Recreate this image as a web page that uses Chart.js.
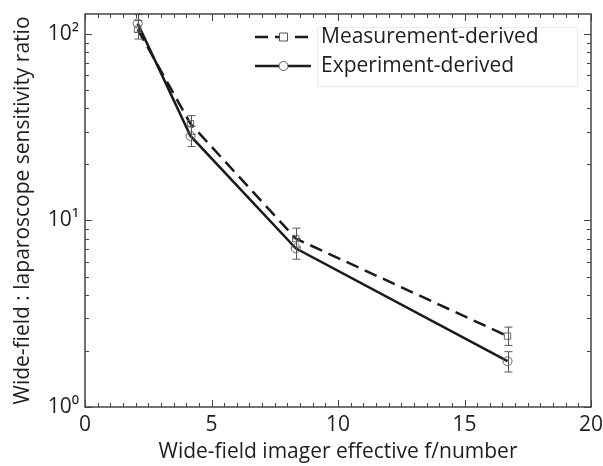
<!DOCTYPE html>
<html>
<head>
<meta charset="utf-8">
<script src="https://cdn.jsdelivr.net/npm/chart.js@4"></script>
<style>
  html, body { margin: 0; padding: 0; background: #fff; }
  #wrap { width: 603px; height: 466px; }
</style>
</head>
<body>
<div id="wrap"><canvas id="chart" width="603" height="466"></canvas></div>
<script>
// f/number of the wide-field imager
const fNumbers = [2.08, 4.17, 8.33, 16.7];

// Measurement-derived ratio and error bar ends
const measurement = [106, 33, 8.0, 2.4];
const measurementLow = [94, 29, 7.2, 2.14];
const measurementHigh = [118, 36.5, 9.1, 2.68];

// Experiment-derived ratio and error bar ends
const experiment = [114, 28.4, 7.1, 1.76];
const experimentLow = [102, 24.9, 6.2, 1.54];
const experimentHigh = [127, 32, 8.0, 1.98];

const xTicks = [0, 5, 10, 15, 20];
const yTicks = [1, 10, 100];
const yTickLabels = ['10\u2070', '10\u00b9', '10\u00b2'];
const legendLabels = ['Measurement-derived', 'Experiment-derived'];

const FONT = "'Open Sans', 'DejaVu Sans', sans-serif";
const INK = '#1e1e1e';
const DASH = [13, 7];

function toPoints(ys) {
    return fNumbers.map((x, i) => ({ x: x, y: ys[i] }));
}

// error bars, inward ticks, frame and legend
const decorations = {
    id: 'decorations',
    afterDatasetsDraw(chart) {
        const { ctx, chartArea: a, scales: { x, y } } = chart;
        ctx.save();

        // error bars
        ctx.strokeStyle = '#555';
        ctx.lineWidth = 1;
        [[measurementLow, measurementHigh], [experimentLow, experimentHigh]].forEach(([lo, hi]) => {
            fNumbers.forEach((f, i) => {
                const px = Math.round(x.getPixelForValue(f)) + 0.5;
                const y1 = y.getPixelForValue(lo[i]);
                const y2 = y.getPixelForValue(hi[i]);
                ctx.beginPath();
                ctx.moveTo(px, y1); ctx.lineTo(px, y2);
                ctx.moveTo(px - 4, y1); ctx.lineTo(px + 4, y1);
                ctx.moveTo(px - 4, y2); ctx.lineTo(px + 4, y2);
                ctx.stroke();
            });
        });

        // inward ticks
        ctx.strokeStyle = '#444';
        ctx.lineWidth = 1;
        ctx.beginPath();
        for (let v = 0; v <= 20; v += 0.5) {
            const px = Math.round(x.getPixelForValue(v)) + 0.5;
            const len = v % 5 === 0 ? 7 : 4;
            ctx.moveTo(px, a.bottom); ctx.lineTo(px, a.bottom - len);
            ctx.moveTo(px, a.top); ctx.lineTo(px, a.top + len);
        }
        for (let d = 1; d <= 100; d *= 10) {
            for (let m = 1; m <= 9; m++) {
                const v = d * m;
                if (v > y.max) break;
                const py = Math.round(y.getPixelForValue(v)) + 0.5;
                const len = m === 1 ? 7 : 4;
                ctx.moveTo(a.left, py); ctx.lineTo(a.left + len, py);
                ctx.moveTo(a.right, py); ctx.lineTo(a.right - len, py);
            }
        }
        ctx.stroke();

        // frame
        ctx.strokeStyle = '#444';
        ctx.lineWidth = 1.5;
        ctx.strokeRect(a.left, a.top, a.right - a.left, a.bottom - a.top);

        // legend
        ctx.strokeStyle = '#ececec';
        ctx.lineWidth = 1;
        ctx.strokeRect(317.5, 27.5, 260, 59);

        const rows = [
            { y: 37, dash: DASH, marker: 'rect' },
            { y: 66, dash: [], marker: 'circle' }
        ];
        rows.forEach((r, i) => {
            ctx.strokeStyle = '#1a1a1a';
            ctx.lineWidth = 2.5;
            ctx.setLineDash(r.dash);
            ctx.beginPath();
            ctx.moveTo(255, r.y); ctx.lineTo(311, r.y);
            ctx.stroke();
            ctx.setLineDash([]);
            ctx.strokeStyle = '#555';
            ctx.lineWidth = 1;
            ctx.fillStyle = '#fff';
            ctx.beginPath();
            if (r.marker === 'rect') {
                ctx.rect(279.5, r.y - 4, 8, 8);
            } else {
                ctx.arc(283.5, r.y, 4.5, 0, Math.PI * 2);
            }
            ctx.fill();
            ctx.stroke();
            ctx.fillStyle = INK;
            ctx.font = '21px ' + FONT;
            ctx.textBaseline = 'middle';
            ctx.textAlign = 'left';
            ctx.fillText(legendLabels[i], 321, r.y);
        });

        ctx.restore();
    }
};

new Chart(document.getElementById('chart').getContext('2d'), {
    type: 'line',
    data: {
        datasets: [
            {
                label: legendLabels[0],
                data: toPoints(measurement),
                borderColor: '#1a1a1a',
                borderWidth: 2.5,
                borderDash: DASH,
                pointStyle: 'rect',
                pointRadius: 4.5,
                pointBorderColor: '#666',
                pointBackgroundColor: 'rgba(0,0,0,0)',
                pointBorderWidth: 1,
                tension: 0,
                fill: false
            },
            {
                label: legendLabels[1],
                data: toPoints(experiment),
                borderColor: '#1a1a1a',
                borderWidth: 2.5,
                pointStyle: 'circle',
                pointRadius: 4.5,
                pointBorderColor: '#666',
                pointBackgroundColor: 'rgba(0,0,0,0)',
                pointBorderWidth: 1,
                tension: 0,
                fill: false
            }
        ]
    },
    options: {
        responsive: false,
        animation: false,
        layout: { padding: { top: 14, right: 12, left: 0, bottom: 0 } },
        plugins: {
            legend: { display: false },
            tooltip: { enabled: false }
        },
        scales: {
            x: {
                type: 'linear',
                min: 0,
                max: 20,
                afterBuildTicks: axis => { axis.ticks = xTicks.map(v => ({ value: v })); },
                afterFit: axis => {
                    axis.height = 59;
                    axis.paddingLeft = 0;
                    axis.paddingRight = 0;
                },
                grid: { display: false, drawTicks: false },
                border: { display: false },
                ticks: {
                    padding: 5,
                    color: INK,
                    font: { family: FONT, size: 21 },
                    maxRotation: 0
                },
                title: {
                    display: true,
                    text: 'Wide-field imager effective f/number',
                    color: INK,
                    font: { family: FONT, size: 21 },
                    padding: { top: 0, bottom: 1 }
                }
            },
            y: {
                type: 'logarithmic',
                min: 1,
                max: 128,
                afterBuildTicks: axis => { axis.ticks = yTicks.map(v => ({ value: v })); },
                afterFit: axis => {
                    axis.width = 85;
                    axis.paddingTop = 0;
                    axis.paddingBottom = 0;
                },
                grid: { display: false, drawTicks: false },
                border: { display: false },
                ticks: {
                    padding: 6,
                    color: INK,
                    font: { family: FONT, size: 21 },
                    callback: value => {
                        const i = yTicks.indexOf(value);
                        return i >= 0 ? yTickLabels[i] : '';
                    }
                },
                title: {
                    display: true,
                    text: 'Wide-field : laparoscope sensitivity ratio',
                    color: INK,
                    font: { family: FONT, size: 21 },
                    padding: { top: 10, bottom: 0 }
                }
            }
        }
    },
    plugins: [decorations]
});
</script>
</body>
</html>
